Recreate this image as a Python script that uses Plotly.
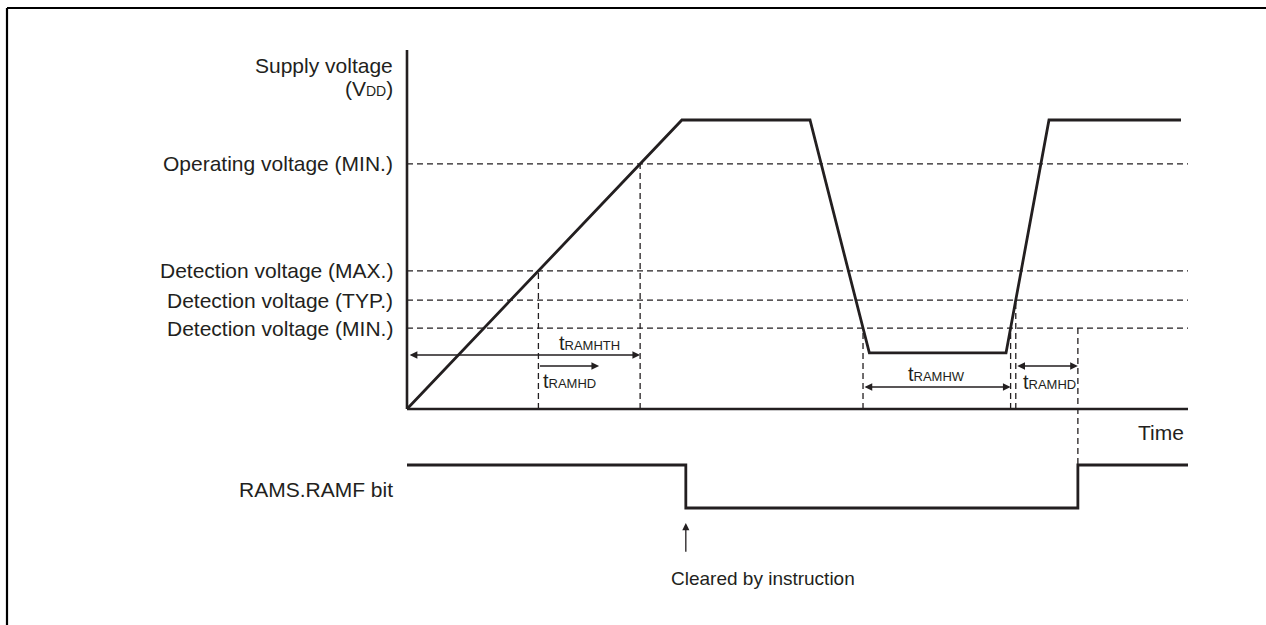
import plotly.graph_objects as go

# ---------------- data (time in arbitrary units, voltage in % of VDD) ----------------
vdd_t = [0, 35.2, 51.6, 59.2, 76.7, 82.2, 99.1]
vdd_v = [0, 100, 100, 19.4, 19.4, 100, 100]

level_names = ["Operating voltage (MIN.)", "Detection voltage (MAX.)",
               "Detection voltage (TYP.)", "Detection voltage (MIN.)"]
level_vals = [84.8, 47.8, 37.7, 28.0]

ramf_t = [0, 35.7, 35.7, 85.9, 85.9, 100]
ramf_v = [1, 1, 0, 0, 1, 1]

t_end = 100          # end of time axis
v_top = 124.2        # top of voltage axis
t_hd_end1 = 24.6     # end of first tRAMHD arrow

# ---------------- helpers ----------------
def crossing(level, seg):
    """time where VDD segment `seg` (index of start point) crosses `level`"""
    t0, t1 = vdd_t[seg], vdd_t[seg + 1]
    v0, v1 = vdd_v[seg], vdd_v[seg + 1]
    return t0 + (level - v0) / (v1 - v0) * (t1 - t0)

OP, DMAX, DTYP, DMIN = level_vals
t_max_up = crossing(DMAX, 0)
t_op_up = crossing(OP, 0)
t_min_down = crossing(DMIN, 2)
t_min_up = crossing(DMIN, 4)
t_typ_up = crossing(DTYP, 4)
t_ramf_up = ramf_t[3]

INK = "#231f20"
FONT = "Liberation Sans, Arial, Helvetica, sans-serif"
W, H = 1266, 625
PX_T = 7.81   # pixels per time unit
PX_V = 2.89   # pixels per voltage unit
X0, Y0 = 407, 409
B1, B0 = 465, 508

fig = go.Figure()
fig.add_trace(go.Scatter(x=vdd_t, y=vdd_v, mode="lines",
                         line=dict(color=INK, width=2.8), hoverinfo="skip"))
fig.add_trace(go.Scatter(x=ramf_t, y=ramf_v, mode="lines", yaxis="y2",
                         line=dict(color=INK, width=2.8, shape="linear"),
                         hoverinfo="skip"))

shapes = []
dash = "6px,4px"
# axes
shapes.append(dict(type="line", x0=0, x1=0, y0=0, y1=v_top, xref="x", yref="y",
                   line=dict(color=INK, width=2.6)))
shapes.append(dict(type="line", x0=0, x1=t_end, y0=0, y1=0, xref="x", yref="y",
                   line=dict(color=INK, width=2.6)))
# horizontal dashed levels
for v in level_vals:
    shapes.append(dict(type="line", x0=0, x1=t_end, y0=v, y1=v, xref="x", yref="y",
                       line=dict(color=INK, width=1.3, dash=dash)))
# vertical dashed markers
for t, v in [(t_max_up, DMAX), (t_op_up, OP), (t_min_down, DMIN),
             (t_min_up, DMIN), (t_typ_up, DTYP)]:
    shapes.append(dict(type="line", x0=t, x1=t, y0=0, y1=v, xref="x", yref="y",
                       line=dict(color=INK, width=1.3, dash=dash)))
# dashed line from detection MIN down to RAMF rising edge
shapes.append(dict(type="line", x0=t_ramf_up, x1=t_ramf_up, y0=DMIN, y1=-(B1 - Y0) / PX_V,
                   xref="x", yref="y", line=dict(color=INK, width=1.3, dash=dash)))
# outer frame (left + top)
shapes.append(dict(type="line", xref="paper", yref="paper", x0=7 / W, x1=7 / W,
                   y0=0, y1=1 - 8 / H, line=dict(color="black", width=2.2)))
shapes.append(dict(type="line", xref="paper", yref="paper", x0=7 / W, x1=1,
                   y0=1 - 8 / H, y1=1 - 8 / H, line=dict(color="black", width=2.2)))

ann = []
# level labels
lab_font = dict(family=FONT, size=21, color=INK)
for name, v in zip(level_names, level_vals):
    ann.append(dict(x=0, y=v, xref="x", yref="y", text=name, showarrow=False,
                    xanchor="right", yanchor="middle", xshift=-12, font=lab_font))
ann.append(dict(x=0, y=(Y0 - 65) / PX_V, xref="x", yref="y", text="Supply voltage",
                showarrow=False, xanchor="right", yanchor="middle", xshift=-12, font=lab_font))
ann.append(dict(x=0, y=(Y0 - 88) / PX_V, xref="x", yref="y",
                text="(V<span style='font-size:14px'>DD</span>)",
                showarrow=False, xanchor="right", yanchor="middle", xshift=-12, font=lab_font))
ann.append(dict(x=t_end, y=(Y0 - 432) / PX_V, xref="x", yref="y", text="Time",
                showarrow=False, xanchor="right", yanchor="middle", xshift=-2, font=lab_font))
ann.append(dict(x=0, y=(ramf_v[0] + ramf_v[2]) / 2 - 0.06, xref="x", yref="y2",
                text="RAMS.RAMF bit", showarrow=False, xanchor="right",
                yanchor="middle", xshift=-12, font=lab_font))


def tlabel(sub):
    return "t<span style='font-size:13px'>" + sub + "</span>"


arr = dict(showarrow=True, arrowcolor=INK, arrowwidth=1.4, arrowhead=2, arrowsize=1.1,
           startarrowhead=2, startarrowsize=1.1, text="", xref="x", yref="y",
           axref="x", ayref="y", standoff=0, startstandoff=0)
y_hth = (Y0 - 355) / PX_V
y_hd = (Y0 - 366) / PX_V
y_hw = (Y0 - 387) / PX_V
ann.append(dict(arr, x=t_op_up, y=y_hth, ax=0.15, ay=y_hth, arrowside="end+start"))
ann.append(dict(arr, x=t_hd_end1, y=y_hd, ax=t_max_up, ay=y_hd, arrowside="end"))
ann.append(dict(arr, x=t_min_up, y=y_hw, ax=t_min_down, ay=y_hw, arrowside="end+start"))
ann.append(dict(arr, x=t_ramf_up, y=y_hd, ax=t_typ_up, ay=y_hd, arrowside="end+start"))

tfont = dict(family=FONT, size=20, color=INK)
ann.append(dict(x=(t_max_up + t_op_up) / 2, y=(Y0 - 343) / PX_V, text=tlabel("RAMHTH"),
                showarrow=False, xanchor="center", yanchor="middle", font=tfont))
ann.append(dict(x=t_max_up, y=(Y0 - 381) / PX_V, text=tlabel("RAMHD"), xshift=3,
                showarrow=False, xanchor="left", yanchor="middle", font=tfont))
ann.append(dict(x=(t_min_down + t_min_up) / 2, y=(Y0 - 374) / PX_V, text=tlabel("RAMHW"),
                showarrow=False, xanchor="center", yanchor="middle", font=tfont))
ann.append(dict(x=t_typ_up, y=(Y0 - 382) / PX_V, text=tlabel("RAMHD"), xshift=5,
                showarrow=False, xanchor="left", yanchor="middle", font=tfont))

# cleared-by-instruction arrow
ann.append(dict(arr, xref="x", yref="y2", axref="x", ayref="y2",
                x=ramf_t[1], y=-0.35, ax=ramf_t[1], ay=-1.05, arrowside="end",
                arrowwidth=1.3))
ann.append(dict(x=ramf_t[1], y=-1.63, xref="x", yref="y2", text="Cleared by instruction",
                showarrow=False, xanchor="left", yanchor="middle", xshift=-17,
                font=dict(family=FONT, size=19, color=INK)))

fig.update_layout(
    width=W, height=H, margin=dict(l=0, r=0, t=0, b=0),
    paper_bgcolor="white", plot_bgcolor="white", showlegend=False,
    xaxis=dict(range=[-X0 / PX_T, (W - X0) / PX_T], visible=False, fixedrange=True),
    yaxis=dict(range=[-(H - Y0) / PX_V, Y0 / PX_V], visible=False, fixedrange=True),
    yaxis2=dict(range=[-(H - B0) / (B0 - B1), B0 / (B0 - B1)], visible=False,
                overlaying="y", fixedrange=True),
    shapes=shapes, annotations=ann,
)

fig.write_html("out.html", config={"displayModeBar": False},
               post_script="document.body.style.margin='0';document.body.style.overflow='hidden';")
